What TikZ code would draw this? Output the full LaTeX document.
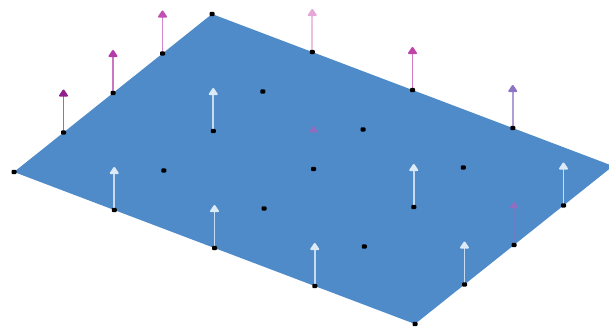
\documentclass[tikz,border=0pt]{standalone}
\usetikzlibrary{arrows.meta,calc}
\definecolor{planeblue}{HTML}{4F8BC9}
\definecolor{cDark}{HTML}{8E1F8E}
\definecolor{cMag}{HTML}{B43CA8}
\definecolor{cMagB}{HTML}{C24FB2}
\definecolor{cPink}{HTML}{E6A6D6}
\definecolor{cMagC}{HTML}{C043A8}
\definecolor{cLav}{HTML}{8C74C4}
\definecolor{cLight}{HTML}{DCEAF8}
\definecolor{cFaint}{HTML}{B060B8}
\colorlet{cFaintHead}{cFaint!70!planeblue}
\colorlet{cFaintShaft}{cFaint!25!planeblue}
\tikzset{
  gridpt/.style={fill=black,rectangle,inner sep=0pt,minimum width=5pt,minimum height=4.2pt,rounded corners=1pt},
  vecarrow/.style={line width=1.7pt,draw=#1!70!white,-{Triangle[width=10pt,length=8pt,round,line width=2.2pt,color=#1,fill=#1]}},
  lightarrow/.style={line width=1.7pt,draw=cLight!85!planeblue,-{Triangle[width=10pt,length=8pt,round,line width=2.2pt,color=cLight,fill=cLight]}},
  faintarrow/.style={line width=1.4pt,draw=cFaintShaft,-{Triangle[width=9pt,length=7pt,round,line width=1.8pt,color=cFaintHead,fill=cFaintHead]}}
}
\begin{document}
\begin{tikzpicture}[x=1pt,y=-1pt]
\useasboundingbox (0,0) rectangle (609,333);
\clip (0,0) rectangle (609,333);
% lattice coordinates
\foreach \i in {0,...,4}{
  \foreach \j in {0,...,4}{
    \coordinate (q\i\j) at ({212+100.25*\i-49.5*\j},{14+38*\i+39.5*\j});
    \coordinate (t\i\j) at ({212+100.25*\i-49.5*\j},{14+38*\i+39.5*\j-43});
  }
}
% plane
\fill[planeblue] (q00) -- (q40) -- (q44) -- (q04) -- cycle;
% arrows
\draw[vecarrow=cDark]  (q03) -- (t03);
\draw[vecarrow=cMag]   (q02) -- (t02);
\draw[vecarrow=cMagB]  (q01) -- (t01);
\draw[vecarrow=cPink]  (q10) -- (t10);
\draw[vecarrow=cMagC]  (q20) -- (t20);
\draw[vecarrow=cLav]   (q30) -- (t30);
\foreach \p in {12,14,24,32,41,34,43}{
  \draw[lightarrow] (q\p) -- (t\p);
}
\draw[faintarrow] (q22) -- (t22);
\draw[faintarrow] (q42) -- (t42);
% grid points
\foreach \i in {0,...,4}{
  \foreach \j in {0,...,4}{
    \node[gridpt] (p\i\j) at (q\i\j) {};
  }
}
\end{tikzpicture}
\end{document}
